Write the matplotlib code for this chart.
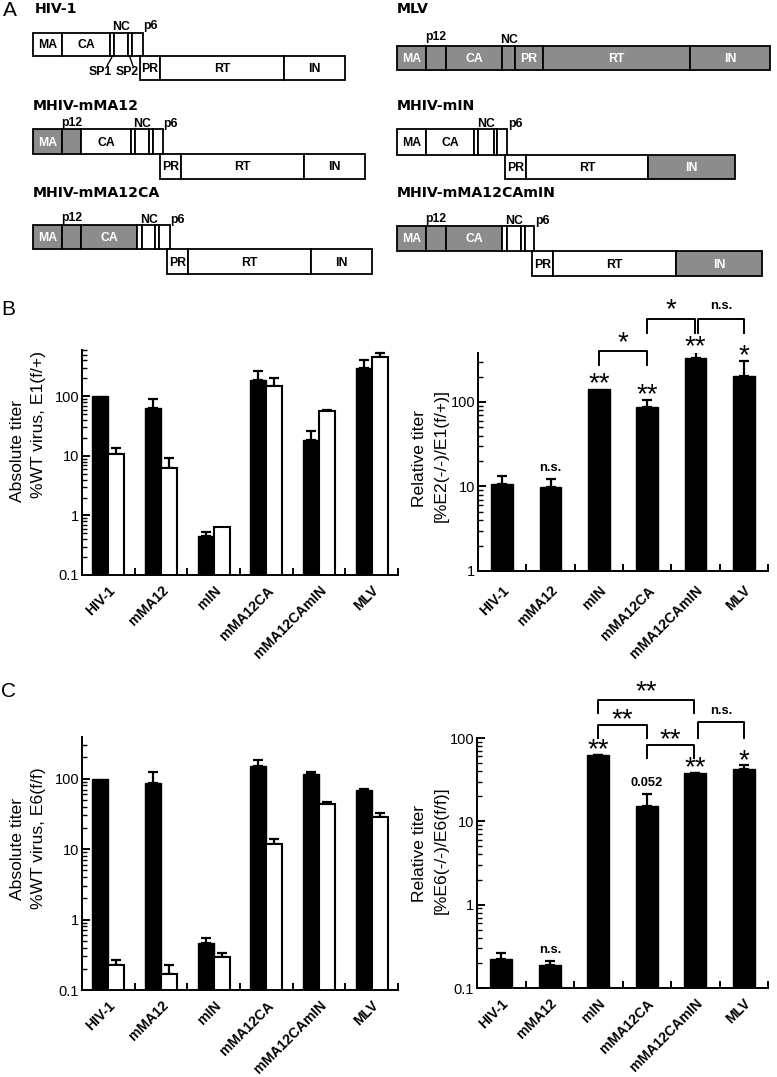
import numpy as np
import matplotlib
matplotlib.use('Agg')
import matplotlib.pyplot as plt
from matplotlib.patches import Rectangle
from matplotlib.transforms import blended_transform_factory
from matplotlib.ticker import FixedLocator, LogLocator, NullFormatter, FuncFormatter
from matplotlib import font_manager as fm

W, H, DPI = 777, 1077, 100
_names = {f.name for f in fm.fontManager.ttflist}
NARROW = 'Liberation Sans Narrow' in _names
REG = ['Liberation Sans', 'DejaVu Sans']
BFAM = (['Liberation Sans Narrow'] if NARROW else []) + REG
BK = 1.0 if NARROW else 0.84
TFAM = ['DejaVu Sans']
plt.rcParams['font.family'] = REG

# ------------------------------------------------------------------ data
viruses = ['HIV-1', 'mMA12', 'mIN', 'mMA12CA', 'mMA12CAmIN', 'MLV']

# Panel B (left): absolute titer, % WT virus
b_abs_black = [100, 63, 0.46, 185, 18.5, 300]
b_abs_black_err = [0, 26, 0.06, 85, 7.5, 115]
b_abs_white = [10.8, 6.3, 0.64, 152, 56, 450]
b_abs_white_err = [2.7, 3.0, 0, 48, 4, 90]
# Panel B (right): relative titer
b_rel = [10.7, 9.9, 142, 87, 331, 203]
b_rel_err = [2.6, 2.4, 0, 19, 59, 104]
b_rel_sig = ['', 'n.s.', '**', '**', '**', '*']
b_pairs = [(2, 3, '*'), (3, 4, '*'), (4, 5, 'n.s.')]

# Panel C (left)
c_abs_black = [100, 88, 0.46, 152, 118, 70]
c_abs_black_err = [0, 38, 0.08, 34, 8, 2]
c_abs_white = [0.23, 0.166, 0.29, 12, 44, 29]
c_abs_white_err = [0.04, 0.064, 0.05, 2, 3, 4]
# Panel C (right)
c_rel = [0.22, 0.19, 62, 15.4, 37.6, 43]
c_rel_err = [0.04, 0.02, 1, 6.1, 0.9, 4]
c_rel_sig = ['', 'n.s.', '**', '0.052', '**', '*']
c_pairs = [(2, 4, '**'), (2, 3, '**'), (3, 4, '**'), (4, 5, 'n.s.')]

# Panel A: genome organisation (label, start, end, grey?)
hiv_top = [('MA', 33, 62, 0), ('CA', 62, 110, 0), ('', 110, 114, 0), ('', 114, 128, 0),
           ('', 128, 132, 0), ('', 132, 143, 0)]
hiv_bot = [('PR', 140, 160, 0), ('RT', 160, 284, 0), ('IN', 284, 345, 0)]
mlv_row = [('MA', 397, 426, 1), ('', 426, 446, 1), ('CA', 446, 502, 1), ('', 502, 515, 1),
           ('PR', 515, 543, 1), ('RT', 543, 690, 1), ('IN', 690, 770, 1)]
mma12_top = [('MA', 33, 62, 1), ('', 62, 81, 1), ('CA', 81, 131, 0), ('', 131, 135, 0),
             ('', 135, 149, 0), ('', 149, 153, 0), ('', 153, 163, 0)]
mma12_bot = [('PR', 160, 181, 0), ('RT', 181, 304, 0), ('IN', 304, 365, 0)]
mma12ca_top = [('MA', 33, 62, 1), ('', 62, 81, 1), ('CA', 81, 137, 1), ('', 137, 142, 0),
               ('', 142, 155, 0), ('', 155, 159, 0), ('', 159, 170, 0)]
mma12ca_bot = [('PR', 167, 188, 0), ('RT', 188, 311, 0), ('IN', 311, 372, 0)]
min_top = [('MA', 397, 426, 0), ('CA', 426, 474, 0), ('', 474, 478, 0), ('', 478, 494, 0),
           ('', 494, 497, 0), ('', 497, 507, 0)]
min_bot = [('PR', 505, 526, 0), ('RT', 526, 648, 0), ('IN', 648, 735, 1)]
mmin_top = [('MA', 397, 426, 1), ('', 426, 446, 1), ('CA', 446, 502, 1), ('', 502, 507, 0),
            ('', 507, 521, 0), ('', 521, 525, 0), ('', 525, 534, 0)]
mmin_bot = [('PR', 532, 553, 0), ('RT', 553, 676, 0), ('IN', 676, 762, 1)]

constructs = [
    ('HIV-1', 35, 13, [(hiv_top, 33, 56), (hiv_bot, 56, 80)],
     [('NC', 121, 29.5), ('p6', 150, 29.5)]),
    ('MLV', 397, 13, [(mlv_row, 46, 70)],
     [('p12', 436, 40), ('NC', 509, 43)]),
    ('MHIV-mMA12', 33, 110, [(mma12_top, 129, 154), (mma12_bot, 154, 179)],
     [('p12', 72, 126), ('NC', 142, 127), ('p6', 170, 127)]),
    ('MHIV-mMA12CA', 33, 197, [(mma12ca_top, 225, 249), (mma12ca_bot, 249, 274)],
     [('p12', 72, 221), ('NC', 149, 223), ('p6', 177, 223)]),
    ('MHIV-mIN', 397, 110, [(min_top, 129, 155), (min_bot, 155, 179)],
     [('NC', 486, 127), ('p6', 515, 127)]),
    ('MHIV-mMA12CAmIN', 397, 197, [(mmin_top, 226, 251), (mmin_bot, 251, 276)],
     [('p12', 436, 222), ('NC', 514, 224), ('p6', 542, 224)]),
]

GRAY = '#8c8c8c'

fig = plt.figure(figsize=(W / DPI, H / DPI), dpi=DPI)
fig.patch.set_facecolor('white')


def fy(y):
    return 1 - y / H


def ftext(x, y, s, **kw):
    return fig.text(x / W, fy(y), s, **kw)


# ------------------------------------------------------------------ panel A
ax0 = fig.add_axes([0, 0, 1, 1])
ax0.set_xlim(0, W)
ax0.set_ylim(H, 0)
ax0.axis('off')

for title, tx, ty, rows, above in constructs:
    ax0.text(tx, ty, title, family=TFAM, weight='bold', fontsize=10.2,
             ha='left', va='baseline')
    for segs, y0, y1 in rows:
        for lab, x0, x1, g in segs:
            ax0.add_patch(Rectangle((x0, y0), x1 - x0, y1 - y0,
                                    facecolor=GRAY if g else 'white',
                                    edgecolor='black', lw=1.3))
            if lab:
                ax0.text((x0 + x1) / 2, (y0 + y1) / 2 + 1, lab, ha='center', va='center',
                         color='white' if g else 'black', family=BFAM,
                         weight='bold', fontsize=10.5 * BK)
    for lab, x, y in above:
        ax0.text(x, y, lab, ha='center', va='baseline', family=BFAM,
                 weight='bold', fontsize=10.5 * BK)

# SP1 / SP2 callouts on HIV-1
ax0.text(100, 72, 'SP1', ha='center', va='center', family=BFAM, weight='bold', fontsize=10.5 * BK)
ax0.text(127.5, 72, 'SP2', ha='center', va='center', family=BFAM, weight='bold', fontsize=10.5 * BK)
ax0.plot([112.5, 107], [56, 66], color='black', lw=1.0)
ax0.plot([129.5, 133], [56, 66], color='black', lw=1.0)

# panel letters
for lab, x, y in [('A', 3, 16), ('B', 1, 315), ('C', 1, 697)]:
    ftext(x, y, lab, fontsize=15, ha='left', va='baseline')


# ------------------------------------------------------------------ charts
def make_axes(x0, y0, x1, y1, ylo, yhi, majors, pad):
    ax = fig.add_axes([x0 / W, fy(y1), (x1 - x0) / W, (y1 - y0) / H])
    ax.set_yscale('log')
    ax.set_ylim(ylo, yhi)
    ax.set_xlim(-0.5, 5.5)
    for s in ['top', 'right']:
        ax.spines[s].set_visible(False)
    for s in ['left', 'bottom']:
        ax.spines[s].set_linewidth(1.4)
    ax.set_xticks(range(len(viruses)))
    ax.set_xticklabels(viruses, rotation=45, ha='right', va='top',
                       rotation_mode='anchor', family=BFAM, weight='bold',
                       fontsize=12 * BK)
    ax.tick_params(axis='x', which='major', length=0, pad=pad)
    ax.set_xticks(np.arange(0.5, len(viruses), 1.0), minor=True)
    ax.tick_params(axis='x', which='minor', direction='in', length=5, width=1.4)
    ax.yaxis.set_major_locator(FixedLocator(majors))
    ax.yaxis.set_major_formatter(FuncFormatter(lambda v, _: '%g' % v))
    ax.yaxis.set_minor_locator(LogLocator(base=10, subs=np.arange(2, 10)))
    ax.yaxis.set_minor_formatter(NullFormatter())
    ax.tick_params(axis='y', which='major', direction='in', length=6, width=1.4,
                   labelsize=10.5, pad=2)
    ax.tick_params(axis='y', which='minor', direction='in', length=3.5, width=1.0)
    return ax


def errbars(ax, x, v, e):
    v = np.asarray(v, float)
    e = np.asarray(e, float)
    m = e > 0
    ax.errorbar(np.asarray(x)[m], v[m], yerr=[np.zeros(m.sum()), e[m]], fmt='none',
                ecolor='black', elinewidth=1.6, capsize=3.3, capthick=1.6, zorder=1)


def paired(ax, black, black_err, white, white_err):
    x = np.arange(len(viruses))
    off, w = 0.152, 0.30
    errbars(ax, x - off, black, black_err)
    errbars(ax, x + off, white, white_err)
    ax.bar(x - off, black, w, color='black', edgecolor='black', lw=1.0, zorder=2)
    ax.bar(x + off, white, w, color='white', edgecolor='black', lw=1.5, zorder=2)


STAR = 20
STAR_EM = STAR * DPI / 72.0
STAR_K = 0.45     # visual centre of '*' above the baseline, in em


def single(ax, vals, errs, sig, pairs, br_layout):
    x = np.arange(len(viruses))
    errbars(ax, x, vals, errs)
    ax.bar(x, vals, 0.45, color='black', edgecolor='black', lw=1.0, zorder=2)
    for i, s in enumerate(sig):
        if not s:
            continue
        top = vals[i] + errs[i]
        if '*' in s:
            ax.annotate(s, (i, top), xytext=(0, (10 - STAR_K * STAR_EM) * 0.72),
                        textcoords='offset points', ha='center', va='baseline',
                        fontsize=STAR, annotation_clip=False)
        else:
            ax.annotate(s, (i, top), xytext=(0, 8), textcoords='offset points',
                        ha='center', va='center', family=BFAM, weight='bold',
                        fontsize=11 * BK, annotation_clip=False)
    tr = blended_transform_factory(ax.transData, fig.transFigure)
    for (i, j, s), (yt, yl, yc) in zip(pairs, br_layout):
        xi = i + (0.06 if i == 4 else 0.0)
        xj = j - (0.02 if j == 4 else 0.0)
        ax.plot([xi, xi, xj, xj], [fy(yl), fy(yt), fy(yt), fy(yl)], color='black',
                lw=1.4, transform=tr, clip_on=False)
        xm = (xi + xj) / 2
        if '*' in s:
            ax.text(xm, fy(yc + STAR_K * STAR_EM), s, transform=tr, ha='center',
                    va='baseline', fontsize=STAR)
        else:
            ax.text(xm, fy(yc), s, transform=tr, ha='center', va='center',
                    family=BFAM, weight='bold', fontsize=11 * BK)


def ylabel2(x1, y1, x2, y2, l1, l2):
    ftext(x1, y1, l1, rotation=90, ha='center', va='center', fontsize=12.6)
    ftext(x2, y2, l2, rotation=90, ha='center', va='center', fontsize=12.6)


# B left
axBL = make_axes(82, 350, 398, 575, 0.1, 600, [0.1, 1, 10, 100], 6)
paired(axBL, b_abs_black, b_abs_black_err, b_abs_white, b_abs_white_err)
ylabel2(18, 451, 39, 424, 'Absolute titer', '%WT virus, E1(f/+)')

# B right
axBR = make_axes(478, 353, 768, 571, 1, 380, [1, 10, 100], 9)
single(axBR, b_rel, b_rel_err, b_rel_sig, b_pairs,
       [(351, 365, 338), (319, 333, 305), (319, 333, 306)])
ylabel2(419, 458, 441, 455, 'Relative titer', '[%E2(-/-)/E1(f/+)]')

# C left
axCL = make_axes(82, 737, 398, 990, 0.1, 390, [0.1, 1, 10, 100], 6)
paired(axCL, c_abs_black, c_abs_black_err, c_abs_white, c_abs_white_err)
ylabel2(18, 849, 39, 838, 'Absolute titer', '%WT virus, E6(f/f)')

# C right
axCR = make_axes(477, 738, 768, 988, 0.1, 100, [0.1, 1, 10, 100], 6)
single(axCR, c_rel, c_rel_err, c_rel_sig, c_pairs,
       [(700, 713, 687), (725, 738, 715), (745, 758, 735), (722, 738, 711)])
ylabel2(419, 853, 441, 850, 'Relative titer', '[%E6(-/-)/E6(f/f)]')

fig.savefig('out.png', dpi=DPI, facecolor='white')
